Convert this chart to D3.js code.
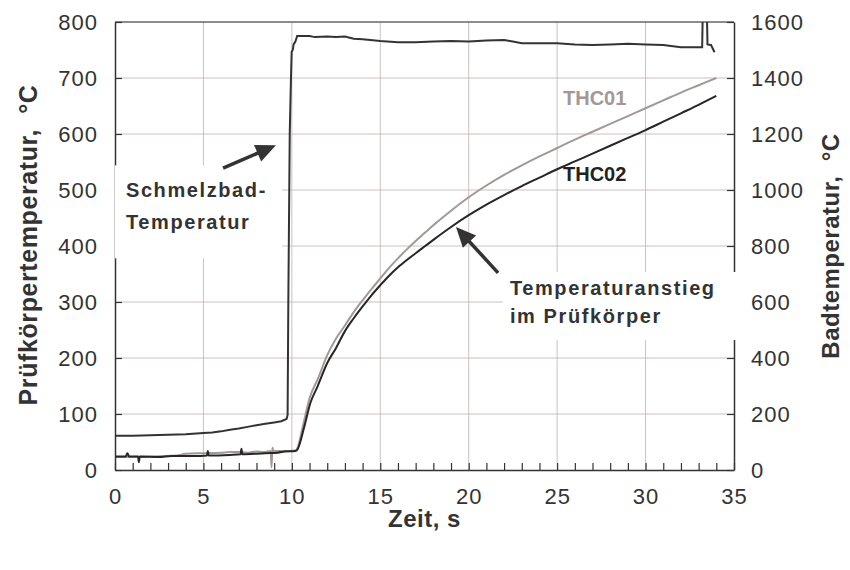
<!DOCTYPE html>
<html>
<head>
<meta charset="utf-8">
<script src="https://cdn.jsdelivr.net/npm/d3@7"></script>
<style>
  html, body { margin: 0; padding: 0; background: #fff; }
  svg { display: block; }
  text { font-family: "Liberation Sans", Arial, sans-serif; }
</style>
</head>
<body>
<svg id="chart" width="850" height="570"></svg>
<script>
// Zeit in s
const xTicks = [0, 5, 10, 15, 20, 25, 30, 35];
const xMinorTicks = d3.range(0, 36, 1);
const xGrid = [5, 10, 15, 20, 25, 30];
// Prüfkörpertemperatur in °C (linke Achse)
const leftTicks = [0, 100, 200, 300, 400, 500, 600, 700, 800];
const leftGrid = [100, 200, 300, 400, 500, 600, 700];
// Badtemperatur in °C (rechte Achse)
const rightTicks = [0, 200, 400, 600, 800, 1000, 1200, 1400, 1600];

// Schmelzbad-Temperatur (rechte Achse)
const bathTime = [0, 1, 2, 3, 4, 5, 5.5, 6, 6.5, 7, 7.5, 8, 8.5, 9, 9.4, 9.7, 9.76,
  9.8, 9.88, 9.95, 9.99, 10.05, 10.1, 10.2, 10.3, 11, 11.3, 12, 12.5, 13, 13.5, 14, 15,
  16, 17, 18, 19, 20, 21, 22, 22.5, 23, 24, 25, 26, 27, 28, 29, 30, 31, 32, 33.2,
  33.25, 33.3, 33.45, 33.5, 33.7, 33.9];
const bathTemp = [122, 122, 124, 126, 128, 132, 134, 138, 144, 148, 154, 160, 165, 170, 174, 182, 196,
  600, 1200, 1400, 1494, 1500, 1520, 1530, 1550, 1550, 1546, 1548, 1546, 1548, 1540, 1538, 1532,
  1528, 1528, 1530, 1532, 1530, 1534, 1536, 1530, 1524, 1524, 1524, 1520, 1518, 1520, 1522, 1520, 1518, 1510, 1510,
  1700, 1700, 1700, 1520, 1518, 1492];

// Thermoelement THC01 (linke Achse)
const thc01Time = [0, 3.5, 4, 5, 6, 6.5, 7, 7.5, 8, 8.4, 8.8, 8.85, 8.9, 8.95, 9.5, 10.2,
  10.3, 10.6, 11, 11.5, 12, 12.5, 13, 13.5, 14, 14.5, 15, 15.5, 16, 16.5, 17, 17.5, 18, 19, 20, 21, 22, 23, 24, 25,
  26, 27, 28, 29, 30, 31, 32, 33, 34];
const thc01Temp = [23, 26, 29, 30, 31, 32, 32, 31, 33, 32, 34, 5, 40, 34, 34, 35,
  38, 75, 128, 165, 205, 235, 258, 282, 303, 323, 342, 361, 378, 394, 409, 423, 437, 463, 487, 508, 527, 544, 560, 575,
  590, 604, 618, 632, 646, 660, 674, 687, 700];

// Thermoelement THC02 (linke Achse)
const thc02Time = [0, 0.6, 0.7, 0.8, 1.3, 1.35, 1.4, 2.5, 3.2, 4.5, 5.2, 5.25, 5.3, 6.5,
  7.1, 7.15, 7.2, 8, 8.5, 9.2, 9.6, 10.2, 10.3, 10.7, 11.05, 11.45, 12, 12.5, 13, 13.5, 14, 14.5,
  15, 15.5, 16, 16.5, 17, 17.5, 18, 19, 20, 21, 22, 23, 24, 25, 26, 27, 28, 29, 30, 31, 32, 33, 34];
const thc02Temp = [24, 24, 30, 24, 24, 14, 24, 23, 25, 25, 26, 34, 26, 27,
  28, 38, 28, 29, 30, 31, 33, 34, 36, 77, 120, 149, 191, 218, 248, 271, 292, 312,
  330, 347, 362, 375, 387, 399, 411, 434, 455, 474, 491, 507, 522, 537, 551, 565, 579, 593, 607, 622, 637, 652, 668];

// Beschriftungen und Pfeile (in Achsenwerten: Zeit / linke Achse)
const bathNote = { lines: ["Schmelzbad-", "Temperatur"], t: 0.62, v: [487.5, 430], box: [0, 9.44, 544, 378] };
const riseNote = { lines: ["Temperaturanstieg", "im Prüfkörper"], t: 22.33, v: [312.5, 262.5], box: [21.94, 35.2, 353.6, 232] };
const bathArrow = { from: [6.11, 539], to: [9.1, 580] };
const riseArrow = { from: [21.66, 352], to: [19.28, 434] };
const seriesLabels = [
  { text: "THC01", t: 25.33, v: 651.8, color: "#a39797" },
  { text: "THC02", t: 25.33, v: 516, color: "#222" }
];

const svg = d3.select("#chart");
const plotLeft = 115, plotRight = 734, plotTop = 22, plotBottom = 470;

const x = d3.scaleLinear().domain([0, 35]).range([plotLeft, plotRight]);
const yL = d3.scaleLinear().domain([0, 800]).range([plotBottom, plotTop]);
const yR = d3.scaleLinear().domain([0, 1600]).range([plotBottom, plotTop]);

const gridColor = "#cdc0c0";
const axisColor = "#333";

// Gitterlinien
svg.append("g").selectAll("line").data(xGrid).join("line")
  .attr("x1", d => x(d)).attr("x2", d => x(d))
  .attr("y1", plotTop).attr("y2", plotBottom)
  .attr("stroke", gridColor).attr("stroke-width", 1);
svg.append("g").selectAll("line").data(leftGrid).join("line")
  .attr("x1", plotLeft).attr("x2", plotRight)
  .attr("y1", d => yL(d)).attr("y2", d => yL(d))
  .attr("stroke", gridColor).attr("stroke-width", 1);

// Rahmen oben
svg.append("line").attr("x1", plotLeft).attr("x2", plotRight).attr("y1", plotTop).attr("y2", plotTop)
  .attr("stroke", "#666").attr("stroke-width", 1.3);

// Messkurven
svg.append("clipPath").attr("id", "plotClip").append("rect")
  .attr("x", plotLeft).attr("y", plotTop).attr("width", plotRight - plotLeft).attr("height", plotBottom - plotTop);
const plot = svg.append("g").attr("clip-path", "url(#plotClip)");

const lineL = d3.line().x(d => x(d[0])).y(d => yL(d[1])).curve(d3.curveMonotoneX);
const lineR = d3.line().x(d => x(d[0])).y(d => yR(d[1]));

plot.append("path").datum(d3.zip(thc01Time, thc01Temp))
  .attr("d", lineL).attr("fill", "none").attr("stroke", "#a39797").attr("stroke-width", 2);
plot.append("path").datum(d3.zip(thc02Time, thc02Temp))
  .attr("d", lineL).attr("fill", "none").attr("stroke", "#262626").attr("stroke-width", 2);
plot.append("path").datum(d3.zip(bathTime, bathTemp))
  .attr("d", lineR).attr("fill", "none").attr("stroke", "#333").attr("stroke-width", 2);

// Achsen
function styleAxis(g) {
  g.select(".domain").attr("stroke", axisColor).attr("stroke-width", 1.5);
  g.selectAll(".tick line").attr("stroke", axisColor).attr("stroke-width", 1.2);
  g.selectAll("text").attr("font-size", 22).attr("fill", "#333")
    .style("font-family", "'Liberation Sans', Arial, sans-serif").attr("letter-spacing", 1);
}

svg.append("g").attr("transform", `translate(0,${plotBottom})`)
  .call(d3.axisBottom(x).tickValues(xMinorTicks).tickSize(-7).tickSizeOuter(0).tickFormat(""))
  .call(styleAxis);
svg.append("g").attr("transform", `translate(0,${plotBottom})`)
  .call(d3.axisBottom(x).tickValues(xTicks).tickSize(0).tickPadding(18).tickFormat(d3.format("d")))
  .call(g => g.select(".domain").remove())
  .call(styleAxis);

svg.append("g").attr("transform", `translate(${plotLeft},0)`)
  .call(d3.axisLeft(yL).tickValues(leftTicks).tickSize(-7).tickSizeOuter(0).tickPadding(17)
    .tickFormat(d3.format("d")))
  .call(styleAxis)
  .call(g => g.selectAll("text").attr("dy", "0.36em"));

svg.append("g").attr("transform", `translate(${plotRight},0)`)
  .call(d3.axisRight(yR).tickValues(rightTicks).tickSize(-7).tickSizeOuter(0).tickPadding(17)
    .tickFormat(d3.format("d")))
  .call(styleAxis)
  .call(g => g.selectAll("text").attr("dy", "0.36em"));

// Achsentitel
svg.append("text").attr("x", (plotLeft + plotRight) / 2).attr("y", 527)
  .attr("text-anchor", "middle").attr("font-size", 24).attr("font-weight", "bold")
  .attr("letter-spacing", 0.5).attr("fill", "#333").text("Zeit, s");
svg.append("text").attr("transform", `translate(37,${(plotTop + plotBottom) / 2 - 1}) rotate(-90)`)
  .attr("text-anchor", "middle").attr("font-size", 25).attr("font-weight", "bold")
  .attr("letter-spacing", 0.6).attr("fill", "#333").attr("xml:space", "preserve")
  .text("Prüfkörpertemperatur,  °C");
svg.append("text").attr("transform", `translate(839,${(plotTop + plotBottom) / 2}) rotate(-90)`)
  .attr("text-anchor", "middle").attr("font-size", 24).attr("font-weight", "bold")
  .attr("letter-spacing", 0.5).attr("fill", "#333").attr("xml:space", "preserve")
  .text("Badtemperatur,  °C");

// Textfelder mit weißem Hintergrund
function note(n) {
  svg.append("rect")
    .attr("x", x(n.box[0])).attr("y", yL(n.box[2]))
    .attr("width", x(n.box[1]) - x(n.box[0])).attr("height", yL(n.box[3]) - yL(n.box[2]))
    .attr("fill", "#fff");
  n.lines.forEach((s, i) => {
    svg.append("text").attr("x", x(n.t)).attr("y", yL(n.v[i]))
      .attr("font-size", 20).attr("font-weight", "bold").attr("letter-spacing", 1.6)
      .attr("fill", "#333").text(s);
  });
}
note(bathNote);
note(riseNote);

// Pfeile
function arrow(a) {
  const x1 = x(a.from[0]), y1 = yL(a.from[1]);
  const x2 = x(a.to[0]), y2 = yL(a.to[1]);
  const dx = x2 - x1, dy = y2 - y1, len = Math.hypot(dx, dy);
  const ux = dx / len, uy = dy / len;
  const headLen = 20, headHalf = 9;
  const bx = x2 - ux * headLen, by = y2 - uy * headLen;
  svg.append("line").attr("x1", x1).attr("y1", y1).attr("x2", bx + ux * 2).attr("y2", by + uy * 2)
    .attr("stroke", "#333").attr("stroke-width", 3.5);
  svg.append("path")
    .attr("d", `M${x2},${y2} L${bx - uy * headHalf},${by + ux * headHalf} L${bx + uy * headHalf},${by - ux * headHalf} Z`)
    .attr("fill", "#333");
}
arrow(bathArrow);
arrow(riseArrow);

// Kurvenbeschriftung
svg.append("g").selectAll("text").data(seriesLabels).join("text")
  .attr("x", d => x(d.t)).attr("y", d => yL(d.v))
  .attr("font-size", 20).attr("font-weight", "bold")
  .attr("fill", d => d.color).text(d => d.text);
</script>
</body>
</html>
